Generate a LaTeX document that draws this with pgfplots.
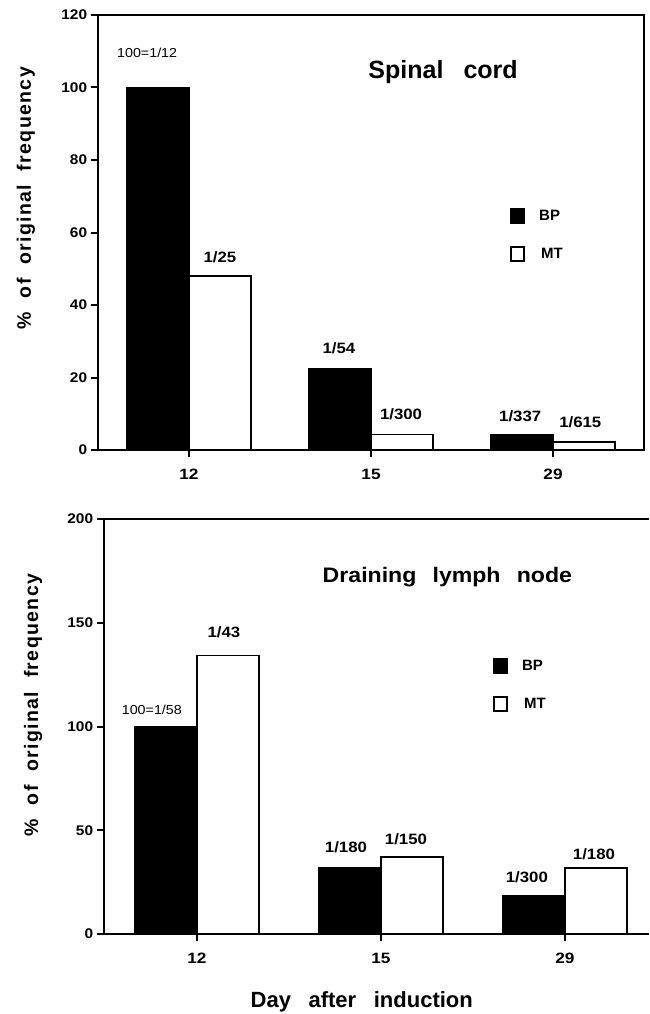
\documentclass[border=0pt]{standalone}
\usepackage{fontspec}
\setmainfont{Liberation Sans}
\newfontfamily\widefont[LetterSpace=7]{Liberation Sans}
\usepackage{pgfplots}
\usepackage{pgfplotstable}
\pgfplotsset{compat=1.18}

\pgfplotstableread{
x bp mt
0 100 48
1 22.5 4.3
2 4.3 2.1
}\spinal
\pgfplotstableread{
x bp mt
0 100 134.2
1 32 37
2 18.6 31.8
}\lymph

\pgfplotsset{
  myax/.style={
    scale only axis, clip=false,
    ybar, bar width=62pt,
    xtick={0,1,2}, xticklabels={12,15,29},
    ymin=0,
    /pgf/number format/assume math mode=true,
    tick align=outside, major tick length=7pt,
    xtick pos=bottom, ytick pos=left,
    major tick style={line width=2pt, black},
    axis line style={line width=2.6pt},
    xticklabel style={font=\bfseries\fontsize{15}{15}\selectfont, xscale=1.15, anchor=base, yshift=-22pt},
    yticklabel style={font=\bfseries\fontsize{14}{14}\selectfont, xscale=1.1},
    ylabel={\%\hspace{0.7em}of\hspace{0.7em}original\hspace{0.7em}frequency},
    ylabel style={font=\widefont\bfseries\fontsize{19.5}{19.5}\selectfont, anchor=center},
    legend style={draw=none, fill=none, inner sep=0pt, anchor=north west,
      font=\bfseries\fontsize{15}{15}\selectfont, row sep=22pt,
      /tikz/every even column/.style={column sep=0pt}},
    legend cell align=left,
  },
  mylegend/.style={legend image code/.code={\draw[##1, line width=1.8pt] (0pt,-7pt) rectangle (13pt,7pt);}},
  bp/.style={fill=black, draw=black, line width=1.8pt, bar shift=-31pt, mylegend},
  mt/.style={fill=white, draw=black, line width=1.8pt, bar shift=31pt, mylegend},
}
\tikzset{blab/.style={font=\bfseries\fontsize{15}{15}\selectfont, xscale=1.12, anchor=base}}

\begin{document}
\begin{tikzpicture}
\path[use as bounding box] (0,0) rectangle (649pt,-1014pt);

\begin{axis}[myax,
  at={(98pt,-450pt)}, anchor=south west,
  width=546pt, height=435pt,
  xmin=-0.5, xmax=2.5, ymax=120,
  ytick={0,20,...,120},
  ylabel style={at={(rel axis cs:-0.132,0.579)}},
  legend style={at={(rel axis cs:0.755,0.556)}},
]
\addplot[bp] table[x=x, y=bp] {\spinal};
\addplot[mt] table[x=x, y=mt] {\spinal};
\legend{\hspace{12pt}BP, \hspace{14pt}MT}
\node[font=\fontsize{13}{13}\selectfont, xscale=1.1, anchor=base] at (axis cs:-0.23,108.3) {100=1/12};
\node[blab] at (axis cs:0.17,51.6) {1/25};
\node[blab] at (axis cs:0.824,26.5) {1/54};
\node[blab] at (axis cs:1.165,8.5) {1/300};
\node[blab] at (axis cs:1.82,8.0) {1/337};
\node[blab] at (axis cs:2.15,6.1) {1/615};
\node[font=\bfseries\fontsize{25}{25}\selectfont, anchor=base] at (rel axis cs:0.632,0.855) {Spinal\hspace{0.8em}cord};
\end{axis}

\begin{axis}[myax,
  at={(104pt,-934pt)}, anchor=south west,
  width=545pt, height=415pt,
  xmin=-0.505, xmax=2.457, ymax=200,
  axis x line*=bottom, axis y line*=left,
  ytick={0,50,...,200},
  ylabel style={at={(rel axis cs:-0.13,0.552)}},
  legend style={at={(rel axis cs:0.714,0.665)}},
  xlabel={Day\hspace{0.8em}after\hspace{0.8em}induction},
  xlabel style={font=\bfseries\fontsize{22}{22}\selectfont, at={(rel axis cs:0.473,-0.178)}, anchor=base},
]
\addplot[bp] table[x=x, y=bp] {\lymph};
\addplot[mt] table[x=x, y=mt] {\lymph};
\legend{\hspace{12pt}BP, \hspace{14pt}MT}
\draw[line width=2.6pt] (rel axis cs:0,1) -- (rel axis cs:1,1);
\node[font=\fontsize{13}{13}\selectfont, xscale=1.1, anchor=base] at (axis cs:-0.245,106) {100=1/58};
\node[blab] at (axis cs:0.147,142.7) {1/43};
\node[blab] at (axis cs:0.81,39.3) {1/180};
\node[blab] at (axis cs:1.136,43.3) {1/150};
\node[blab] at (axis cs:1.793,24.6) {1/300};
\node[blab] at (axis cs:2.158,36) {1/180};
\node[font=\bfseries\fontsize{21}{21}\selectfont, xscale=1.1, anchor=base] at (rel axis cs:0.63,0.848) {Draining\hspace{0.7em}lymph\hspace{0.7em}node};
\end{axis}
\end{tikzpicture}
\end{document}
